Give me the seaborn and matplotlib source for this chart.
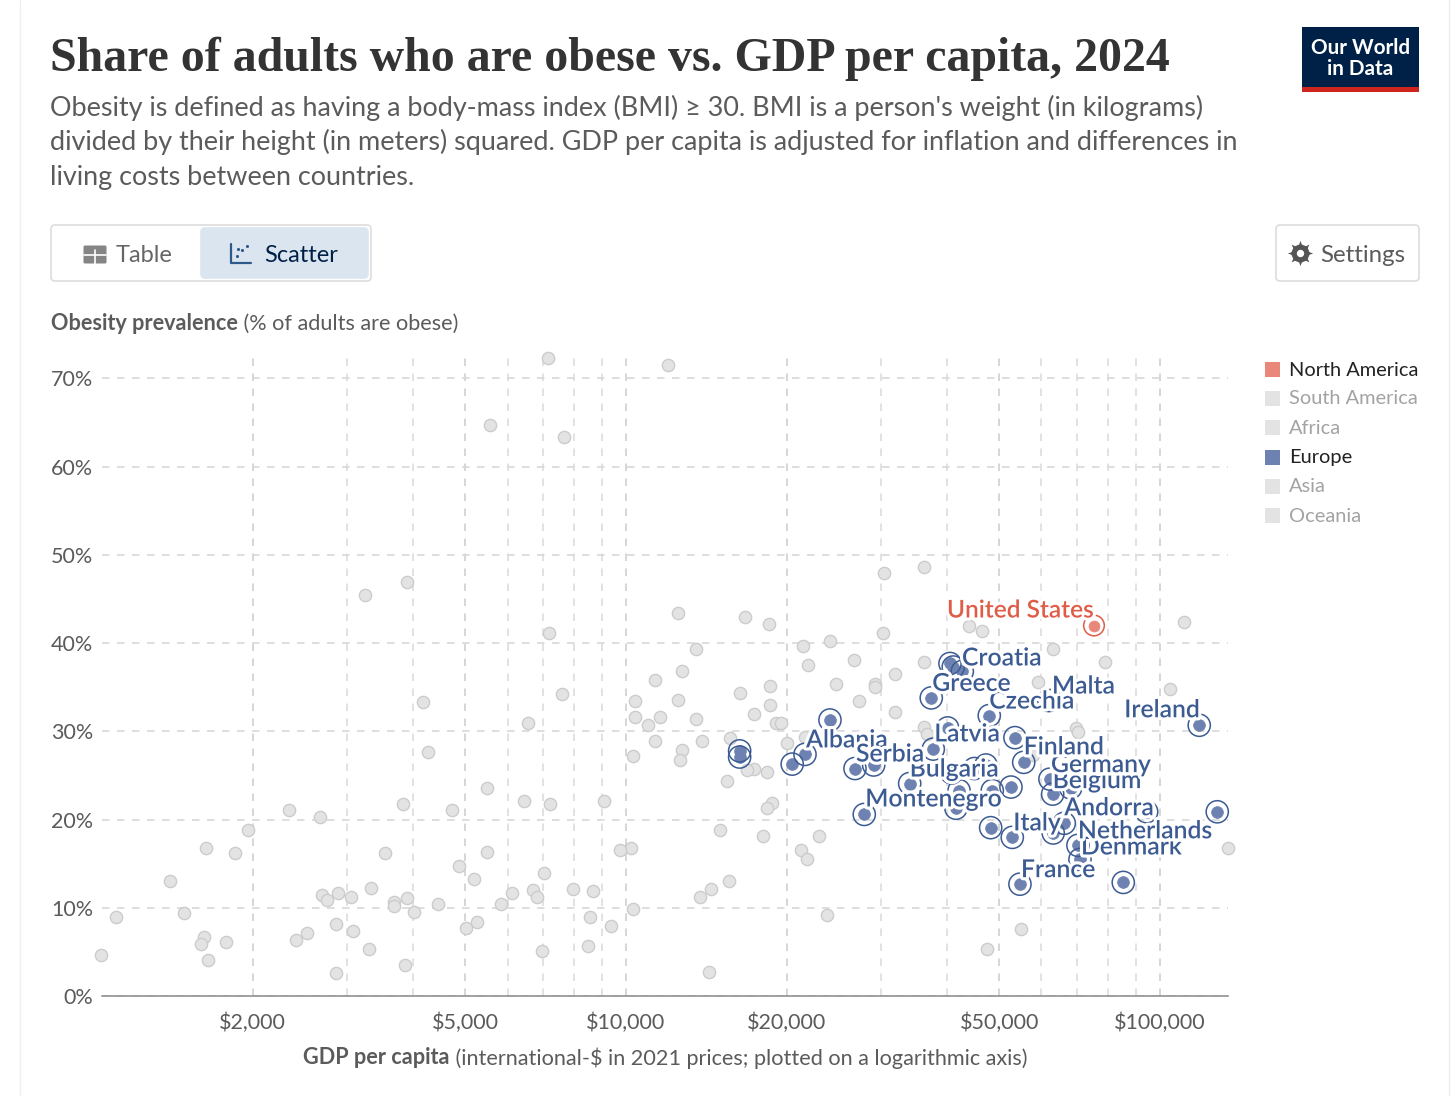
import numpy as np
import pandas as pd
import seaborn as sns
import matplotlib.pyplot as plt
import matplotlib.patheffects as pe
from matplotlib.patches import FancyBboxPatch, Rectangle
from matplotlib.lines import Line2D
from matplotlib.ticker import FixedLocator, NullFormatter

# other countries (greyed out)
other_gdp = [1040, 1108, 1400, 1487, 1635, 1621, 1598, 1649, 1782, 1852, 1957, 2338, 2673, 2409, 2527, 2696,
             2755, 2888, 3055, 2864, 3081, 2864, 3330, 3302, 3539, 3822, 3679, 3679, 3889, 3856, 4009, 4445,
             4721, 4868, 5192, 5016, 5260, 5492, 5492, 5834, 6116, 6441, 6697, 6813, 7023, 6960, 7206, 7144,
             11970, 5564, 7654, 3884, 3245, 12513, 7175, 13520, 12714, 11318, 7598, 6563, 10381, 10381, 11594,
             10980, 12530, 13541, 16324, 18632, 18632, 17386, 19070, 19510, 11318, 13860, 12714, 12622, 10306,
             15680, 19996, 17386, 16850, 18345, 15457, 9095, 18792, 18345, 14998, 18077, 23014, 21290, 21797,
             10231, 9757, 7967, 8684, 15590, 14410, 13759, 10306, 8551, 9386, 8478, 14304, 23760, 16705, 18502,
             30460, 36195, 30250, 21451, 24132, 26694, 21948, 24700, 29298, 29298, 31940, 36195, 27345, 31940,
             36195, 36570, 21640, 111000, 43940, 46415, 62960, 78890, 59170, 104400, 69610, 70310, 134250,
             47430, 54915, 4167, 4258, 57880]
other_obesity = [4.7, 9.0, 13.1, 9.4, 16.8, 6.7, 5.9, 4.1, 6.1, 16.2, 18.8, 21.1, 20.3, 6.4, 7.2, 11.5,
                 10.9, 11.7, 11.2, 8.2, 7.4, 2.6, 12.3, 5.4, 16.2, 21.8, 10.7, 10.2, 11.1, 3.5, 9.5, 10.5,
                 21.1, 14.8, 13.3, 7.7, 8.4, 23.6, 16.3, 10.5, 11.7, 22.1, 12.0, 11.2, 14.0, 5.1, 21.8, 72.3,
                 71.5, 64.7, 63.3, 46.9, 45.5, 43.4, 41.2, 39.3, 36.9, 35.8, 34.2, 30.9, 33.4, 31.6, 31.6,
                 30.7, 33.6, 31.4, 34.4, 35.2, 33.0, 32.0, 30.9, 30.9, 28.9, 28.9, 27.9, 26.8, 27.2,
                 29.3, 28.7, 25.8, 25.6, 25.4, 24.4, 22.1, 21.9, 21.3, 18.8, 18.2, 18.2, 16.6, 15.6,
                 16.8, 16.6, 12.1, 11.9, 13.1, 12.1, 11.3, 9.9, 9.0, 8.0, 5.7, 2.7, 9.2, 43.0, 42.2,
                 47.9, 48.6, 41.2, 39.7, 40.2, 38.1, 37.5, 35.4, 35.4, 35.0, 36.5, 37.9, 33.4, 32.2,
                 30.5, 29.7, 29.4, 42.4, 42.0, 41.4, 39.3, 37.9, 35.6, 34.8, 30.4, 29.9, 16.8,
                 5.4, 7.6, 33.3, 27.7, 27.3]

# Europe, None = no label in the chart
europe_names = ['Croatia', None, None, 'Greece', 'Czechia', 'Malta', 'Ireland', None, None, 'Albania', None,
                'Serbia', None, 'Latvia', None, 'Finland', 'Bulgaria', None, None, None, None, None, None,
                'Germany', 'Belgium', None, 'Montenegro', None, None, 'Italy', 'Andorra', None, None, None,
                'Netherlands', 'Denmark', 'France', None, None, None]
europe_gdp = [40436, 41010, 42640, 37300, 47900, 61960, 118460, 24100, 40035, 21640, 20477,
              26845, 29100, 37625, 53510, 55570, 33985, 44905, 47220, 40730, 42050, 48525, 52600,
              62230, 62960, 68040, 27940, 41485, 48190, 52900, 66190, 94430, 128030, 63110,
              70210, 70830, 54680, 85370, 16324, 16324]
europe_obesity = [37.7, 37.3, 36.8, 33.8, 31.8, 33.5, 30.7, 31.3, 30.4, 27.4, 26.3,
                  25.8, 26.2, 28.0, 29.3, 26.5, 24.1, 25.8, 26.2, 25.3, 23.3, 23.3, 23.7,
                  24.6, 22.9, 23.6, 20.6, 21.3, 19.1, 18.0, 19.6, 20.9, 20.9, 18.5,
                  17.1, 15.5, 12.7, 12.9, 27.8, 27.1]

usa_gdp = [75240]
usa_obesity = [42.0]

x_ticks = [2000, 5000, 10000, 20000, 50000, 100000]
x_minor = [3000, 4000, 6000, 7000, 8000, 9000, 30000, 40000, 60000, 70000, 80000, 90000]
y_ticks = [0, 10, 20, 30, 40, 50, 60, 70]
continents = ['North America', 'South America', 'Africa', 'Europe', 'Asia', 'Oceania']

GREY = '#e3e3e3'
BLUE = '#6d82b0'
BLUE_DARK = '#3c5b92'
RED = '#e8877a'
RED_DARK = '#df5c46'
TXT = '#5b5b5b'

sns.set_theme(style='white')
plt.rcParams['font.family'] = ['Lato', 'DejaVu Sans']

fig = plt.figure(figsize=(14.56, 10.96), dpi=100, facecolor='white')

# page furniture is drawn in pixel coordinates
ui = fig.add_axes([0, 0, 1, 1])
ui.set_xlim(0, 1456)
ui.set_ylim(1096, 0)
ui.axis('off')

ui.add_line(Line2D([20, 20], [0, 1096], color='#eeeeee', lw=1))
ui.add_line(Line2D([1449, 1449], [0, 1096], color='#eeeeee', lw=1))

ui.text(50, 59, 'Share of adults who are obese vs. GDP per capita, 2024', fontsize=34.5,
        family='Liberation Serif', weight='bold', color='#333333', va='center')
subtitle = ["Obesity is defined as having a body-mass index (BMI) ≥ 30. BMI is a person's weight (in kilograms)",
            'divided by their height (in meters) squared. GDP per capita is adjusted for inflation and differences in',
            'living costs between countries.']
for line, y in zip(subtitle, [108, 142, 177]):
    ui.text(50, y, line, fontsize=19.42, color=TXT, va='center')

# logo
ui.add_patch(Rectangle((1302, 27), 117, 60, color='#002147', lw=0))
ui.add_patch(Rectangle((1302, 87), 117, 5, color='#ce261e', lw=0))
ui.text(1360.5, 48, 'Our World', color='white', fontsize=14.9, weight='bold', ha='center', va='center')
ui.text(1360.5, 69, 'in Data', color='white', fontsize=14.9, weight='bold', ha='center', va='center')


def button(x0, y0, x1, y1, face='white', edge='#dddddd'):
    ui.add_patch(FancyBboxPatch((x0 + 4, y0 + 4), x1 - x0 - 8, y1 - y0 - 8, boxstyle='round,pad=4',
                                fc=face, ec=edge, lw=1.2))


# Table / Scatter tabs
button(51, 225, 371, 281)
button(201, 228, 368, 278, face='#dbe5f0', edge='#dbe5f0')
ui.add_patch(FancyBboxPatch((85, 247), 20, 15, boxstyle='round,pad=1.5', fc='#858585', ec='none'))
ui.add_patch(Rectangle((86, 248), 7.5, 4.5, color='white', lw=0, alpha=0.0))
ui.add_line(Line2D([84, 106], [254.5, 254.5], color='white', lw=1.2))
ui.add_line(Line2D([95, 95], [250, 264], color='white', lw=1.2))
ui.add_line(Line2D([231, 231, 251], [244, 263, 263], color='#2d5a8a', lw=1.6))
ui.scatter([237, 242, 247, 238], [256, 250, 246, 249], s=5, color='#2d5a8a', lw=0)
ui.text(116, 255, 'Table', fontsize=17, color='#666666', va='center')
ui.text(264, 255, 'Scatter', fontsize=17, color='#002147', va='center')

# Settings button with a gear
button(1276, 225, 1419, 281)
ui.scatter([1300], [253], s=330, marker=(8, 1, 0), color='#555555', lw=0)
ui.scatter([1300], [253], s=165, marker='o', color='#555555', lw=0)
ui.scatter([1300], [253], s=28, marker='o', color='white', lw=0)
ui.text(1320, 255, 'Settings', fontsize=17.3, color=TXT, va='center')

# legend
for name, y in zip(continents, [369, 398, 427, 457, 486, 515]):
    active = name in ('North America', 'Europe')
    col = {'North America': RED, 'Europe': BLUE}.get(name, GREY)
    ui.add_patch(Rectangle((1265, y - 7.5), 15, 15, color=col, lw=0))
    ui.text(1289, y + 1, name, fontsize=14.45, color='#222222' if active else '#a3a3a3', va='center')

# axis titles
t = ui.text(51, 323.5, 'Obesity prevalence', fontsize=15.55, weight='bold', color=TXT, va='center')
ui.annotate(' (% of adults are obese)', xy=(1, 0.5), xycoords=t, fontsize=15.55, color=TXT, va='center')
t = ui.text(303, 1058, 'GDP per capita', fontsize=15.55, weight='bold', color=TXT, va='center')
ui.annotate(' (international-$ in 2021 prices; plotted on a logarithmic axis)', xy=(1, 0.5), xycoords=t,
            fontsize=15.55, color=TXT, va='center')

# main chart
ax = fig.add_axes([102 / 1456, 1 - 996.3 / 1096, (1228 - 102) / 1456, (996.3 - 358) / 1096])
ax.patch.set_alpha(0)
ax.set_xscale('log')

others = pd.DataFrame({'gdp': other_gdp, 'obesity': other_obesity})
europe = pd.DataFrame({'name': europe_names, 'gdp': europe_gdp, 'obesity': europe_obesity})
usa = pd.DataFrame({'gdp': usa_gdp, 'obesity': usa_obesity})

sns.scatterplot(data=others, x='gdp', y='obesity', ax=ax, s=78, color=GREY, edgecolor='#cccccc',
                linewidth=1, clip_on=False, zorder=3)
sns.scatterplot(data=europe, x='gdp', y='obesity', ax=ax, s=72, color=BLUE, edgecolor=BLUE,
                linewidth=0.5, clip_on=False, zorder=4)
ax.scatter(europe['gdp'], europe['obesity'], s=255, facecolor='none', edgecolor=BLUE_DARK, linewidth=1.1,
           clip_on=False, zorder=4)
sns.scatterplot(data=usa, x='gdp', y='obesity', ax=ax, s=62, color=RED, edgecolor=RED,
                linewidth=0.5, clip_on=False, zorder=4)
ax.scatter(usa['gdp'], usa['obesity'], s=220, facecolor='none', edgecolor=RED_DARK, linewidth=1.1,
           clip_on=False, zorder=4)

ax.set_xlim(1044, 134100)
ax.set_ylim(0, 72.3)

ax.xaxis.set_major_locator(FixedLocator(x_ticks))
ax.xaxis.set_minor_locator(FixedLocator(x_minor))
ax.xaxis.set_minor_formatter(NullFormatter())
ax.set_xticklabels(['${:,}'.format(v) for v in x_ticks])
ax.set_yticks(y_ticks[1:] + [0])
ax.set_yticklabels(['{}%'.format(v) for v in y_ticks[1:]] + ['0%'])
ax.tick_params(axis='both', which='both', length=0, labelsize=15.5, labelcolor=TXT)
ax.tick_params(axis='x', pad=12)
ax.tick_params(axis='y', pad=6.5)
ax.set_xlabel('')
ax.set_ylabel('')

dash = (0, (4.5, 4.5))
ax.grid(True, axis='y', color='#d8d8d8', lw=1.2, linestyle=dash, zorder=0)
ax.grid(True, axis='x', which='major', color='#cfcfcf', lw=1.2, linestyle=dash, zorder=0)
ax.grid(True, axis='x', which='minor', color='#dddddd', lw=1.2, linestyle=dash, zorder=0)
ax.set_axisbelow(True)
sns.despine(ax=ax, left=True)
ax.spines['bottom'].set_color('#888888')
ax.spines['bottom'].set_linewidth(1.1)

# offsets (pixels) of the labels from their points; later ones sit on top of earlier ones
label_offsets = {'Denmark': (1, 13), 'Netherlands': (0, 15), 'Belgium': (0, 14), 'Germany': (1, 15),
                 'Bulgaria': (0, 15), 'Albania': (1, 15), 'Serbia': (1, 15), 'Czechia': (0, 15),
                 'Malta': (3, 15), 'Croatia': (12, 6), 'Greece': (1, 15), 'Ireland': (-75, 16),
                 'Latvia': (1, 15.7), 'Finland': (0, 16), 'Montenegro': (1, 16), 'Andorra': (0, 16),
                 'Italy': (1, 15), 'France': (1, 15)}
halo = [pe.withStroke(linewidth=4.5, foreground='white')]
rows = europe.dropna(subset=['name']).set_index('name')
for name, (dx, dy) in label_offsets.items():
    ax.annotate(name, xy=(rows.loc[name, 'gdp'], rows.loc[name, 'obesity']), xytext=(dx, dy - 8),
                textcoords='offset pixels', fontsize=17.8, weight='semibold', color=BLUE_DARK,
                va='baseline', ha='left', path_effects=halo, zorder=5, annotation_clip=False)
ax.annotate('United States', xy=(usa_gdp[0], usa_obesity[0]), xytext=(-147, 8), textcoords='offset pixels',
            fontsize=17.6, weight='semibold', color=RED_DARK, va='baseline', ha='left', path_effects=halo, zorder=5)

plt.savefig('out.png', dpi=100)
